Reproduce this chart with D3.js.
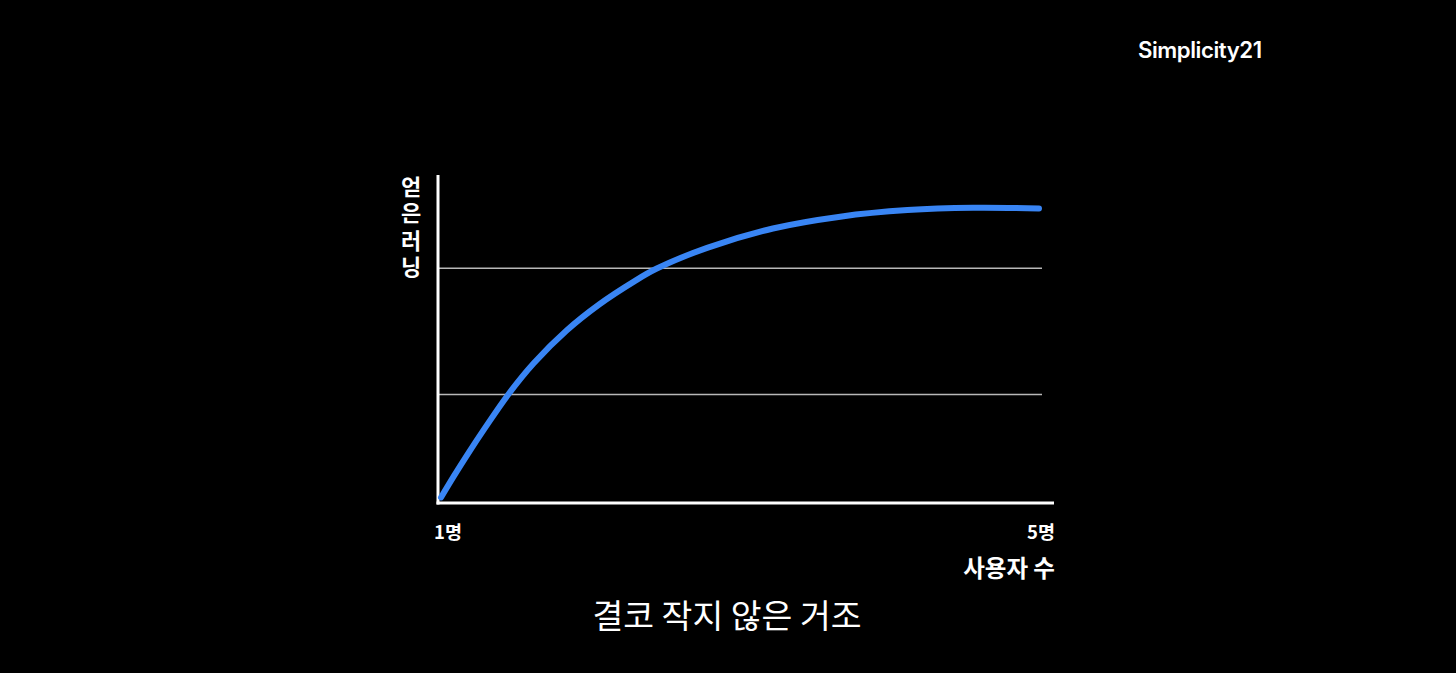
<!DOCTYPE html>
<html><head><meta charset="utf-8">
<script src="https://cdn.jsdelivr.net/npm/d3@7"></script>
<style>
html,body{margin:0;padding:0;background:#000;}
svg{display:block;}
</style></head>
<body>
<svg id="c" width="1456" height="673"></svg>
<script>
// Data
const users = [1, 1.09, 1.18, 1.29, 1.45, 1.62, 1.84, 2.06, 2.29, 2.44, 2.78, 3.22, 3.67, 4.12, 4.56, 5];
const learning = [1.7, 8.5, 15.0, 22.6, 33.1, 42.6, 52.6, 60.6, 67.5, 71.4, 77.8, 83.7, 87.3, 89.3, 90.0, 89.8];
const gridValues = [33.1, 71.6];
const xTickValues = [1, 5];
const xTickLabels = ["1명", "5명"];
const yTitleWords = ["얻은", "러닝"];
const xTitle = "사용자 수";
const caption = "결코 작지 않은 거조";
const brand = "Simplicity21";

const svg = d3.select("#c");
svg.append("rect").attr("width",1456).attr("height",673).attr("fill","#000");

const kr = "'Noto Sans CJK KR', 'Noto Sans', sans-serif";
const x = d3.scaleLinear().domain([1,5]).range([441,1039]);
const y = d3.scaleLinear().domain([0,100]).range([503,175]);

// gridlines
svg.append("g").selectAll("line").data(gridValues).join("line")
  .attr("x1",438).attr("x2",1042)
  .attr("y1",d=>y(d)).attr("y2",d=>y(d))
  .attr("stroke","#b8b8b8").attr("stroke-width",1.5);

// axes
svg.append("line").attr("x1",438).attr("x2",438).attr("y1",y(100)).attr("y2",504.5)
  .attr("stroke","#fff").attr("stroke-width",3);
svg.append("line").attr("x1",436.5).attr("x2",1054).attr("y1",503).attr("y2",503)
  .attr("stroke","#fff").attr("stroke-width",3);

// curve
const line = d3.line().x((d,i)=>x(users[i])).y(d=>y(d)).curve(d3.curveCatmullRom.alpha(0.5));
svg.append("path").datum(learning).attr("d",line)
  .attr("fill","none").attr("stroke","#3985f4").attr("stroke-width",6)
  .attr("stroke-linecap","round").attr("stroke-linejoin","round");

// x tick labels
svg.append("g").selectAll("text").data(xTickValues).join("text")
  .attr("x",(d,i)=> i===0 ? 434 : 1055)
  .attr("y",539)
  .attr("text-anchor",(d,i)=> i===0 ? "start" : "end")
  .attr("fill","#fff").attr("font-family",kr).attr("font-weight",700).attr("font-size",18.5)
  .text((d,i)=>xTickLabels[i]);

// x title
svg.append("text").attr("x",1055).attr("y",577).attr("text-anchor","end")
  .attr("fill","#fff").attr("font-family",kr).attr("font-weight",700).attr("font-size",23.5)
  .text(xTitle);

// y title, vertical with upright glyphs
const yWordTop = [176, 230];
svg.append("g").selectAll("text").data(yTitleWords).join("text")
  .attr("x",411).attr("y",(d,i)=>yWordTop[i])
  .style("writing-mode","vertical-rl").style("text-orientation","upright")
  .attr("fill","#fff").attr("font-family",kr).attr("font-weight",700).attr("font-size",22)
  .attr("letter-spacing",4)
  .text(d=>d);

// caption
svg.append("text").attr("x",727).attr("y",628).attr("text-anchor","middle")
  .attr("fill","#fff").attr("font-family",kr).attr("font-weight",400).attr("font-size",33.5)
  .text(caption);

// brand
svg.append("text").attr("x",1138).attr("y",58).attr("text-anchor","start")
  .attr("fill","#fff").attr("font-family","Inter, 'Noto Sans', sans-serif").attr("font-weight",600)
  .attr("font-size",22.2).attr("letter-spacing",-0.45)
  .text(brand);
</script>
</body></html>
